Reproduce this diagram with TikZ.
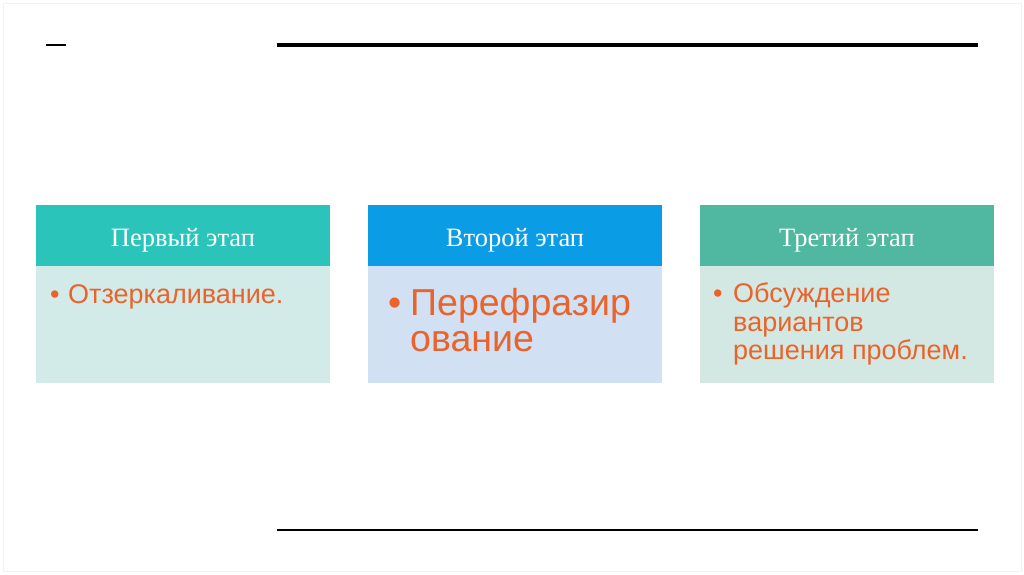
\documentclass[tikz,border=0pt]{standalone}
\usepackage{fontspec}
\setmainfont{Liberation Serif}
\newfontfamily\bodyfont{Liberation Sans}
\definecolor{hdrA}{HTML}{2BC4BB}
\definecolor{bodA}{HTML}{D3EBE8}
\definecolor{hdrB}{HTML}{0A9CE5}
\definecolor{bodB}{HTML}{D1E0F3}
\definecolor{hdrC}{HTML}{50B7A0}
\definecolor{bodC}{HTML}{D4E8E3}
\definecolor{orangetxt}{HTML}{E9632B}
\definecolor{frame}{HTML}{F2F2F2}
\begin{document}
\begin{tikzpicture}[x=1pt,y=-1pt,
  hdr/.style={draw=none,inner sep=0pt,minimum width=294pt,minimum height=61pt,anchor=north west},
  hdrtext/.style={anchor=base,inner sep=0pt,text=white,font=\fontsize{26.5}{30}\selectfont},
  bodybox/.style={draw=none,inner sep=0pt,minimum width=294pt,minimum height=117pt,anchor=north west},
  bul/.style={anchor=base west,inner sep=0pt,text=orangetxt,font=\bodyfont\fontsize{27}{32}\selectfont},
  bigbul/.style={anchor=base west,inner sep=0pt,text=orangetxt,font=\bodyfont\fontsize{37.5}{40}\selectfont},
  rule/.style={line cap=butt}
]
\useasboundingbox (0,0) rectangle (1024,574);
\fill[white] (0,0) rectangle (1024,574);
\draw[frame,line width=1pt] (3,3) rectangle (1021,571);
% rules
\draw[rule,line width=2pt] (46,45) -- (66,45);
\draw[rule,line width=3.6pt] (277,45) -- (978,45);
\draw[rule,line width=2pt] (277,530) -- (978,530);
% box 1
\node[bodybox,fill=bodA] (b1) at (36,266) {};
\node[hdr,fill=hdrA] (h1) at (36,205) {};
\node[hdrtext] (h1t) at (183,246) {Первый этап};
\node[bul] (d1) at (50,303) {•};
\node[bul] (t1) at (68,303) {Отзеркаливание.};
% box 2
\node[bodybox,fill=bodB] (b2) at (368,266) {};
\node[hdr,fill=hdrB] (h2) at (368,205) {};
\node[hdrtext] (h2t) at (515,246) {Второй этап};
\node[bigbul] (d2) at (388,315) {•};
\node[bigbul] (t2a) at (410,315) {Перефразир};
\node[bigbul] (t2b) at (410,351) {ование};
% box 3
\node[bodybox,fill=bodC] (b3) at (700,266) {};
\node[hdr,fill=hdrC] (h3) at (700,205) {};
\node[hdrtext] (h3t) at (847,246) {Третий этап};
\node[bul] (d3) at (713,302) {•};
\node[bul] (t3a) at (733,302) {Обсуждение};
\node[bul] (t3b) at (733,331) {вариантов};
\node[bul] (t3c) at (733,359) {решения проблем.};
\end{tikzpicture}
\end{document}
